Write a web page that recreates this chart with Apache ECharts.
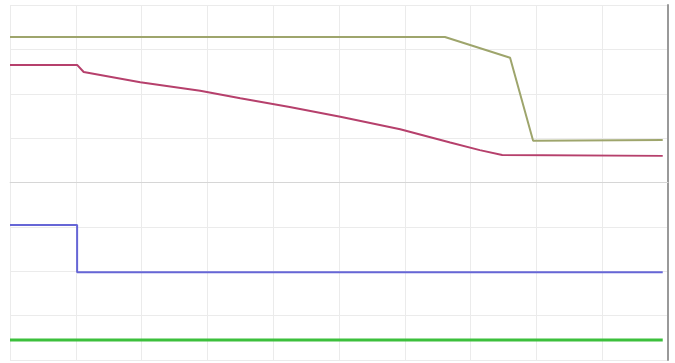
<!DOCTYPE html>
<html>
<head>
<meta charset="utf-8">
<script src="https://cdn.jsdelivr.net/npm/echarts@6/dist/echarts.min.js"></script>
<style>
html,body{margin:0;padding:0;background:#fff;}
#chart{width:675px;height:363px;}
</style>
</head>
<body>
<div id="chart"></div>
<script>
// Time in divisions (0..10), amplitude in divisions (-4..4)
var xTicks = [0,1,2,3,4,5,6,7,8,9,10];
var yTicks = [-4,-3,-2,-1,0,1,2,3,4];

var ch1Olive = [[0,3.28],[6.61,3.28],[7.60,2.81],[7.95,0.94],[9.92,0.96]];
var ch2Red = [[0,2.65],[1.02,2.65],[1.12,2.49],[1.98,2.26],[2.89,2.07],[3.50,1.90],[4.25,1.70],[5.02,1.48],[5.93,1.20],[6.69,0.90],[7.14,0.73],[7.48,0.62],[9.92,0.60]];
var ch3Blue = [[0,-0.96],[1.02,-0.96],[1.02,-2.02],[9.92,-2.02]];
var ch4Green = [[0,-3.55],[9.92,-3.55]];

var chart = echarts.init(document.getElementById('chart'), null, {renderer:'canvas'});
chart.setOption({
  animation:false,
  backgroundColor:'#ffffff',
  grid:{left:10,right:7,top:5,bottom:3,containLabel:false},
  xAxis:{type:'value',min:0,max:10,interval:1,
    axisLine:{show:true,lineStyle:{color:'#e2e2e2'}},
    axisTick:{show:false},axisLabel:{show:false},
    splitLine:{show:true,lineStyle:{color:'#ebebeb',width:1}}},
  yAxis:{type:'value',min:-4,max:4,interval:1,position:'right',
    axisLine:{show:true,onZero:false,lineStyle:{color:'#999999',width:2}},
    axisTick:{show:false},axisLabel:{show:false},
    splitLine:{show:true,lineStyle:{color:'#ebebeb',width:1}}},
  series:[
    {type:'line',data:ch1Olive,showSymbol:false,lineStyle:{color:'#9ea56c',width:2},
     markLine:{silent:true,symbol:'none',label:{show:false},lineStyle:{color:'#d6d6d6',type:'solid',width:1},data:[{yAxis:0}]},z:3},
    {type:'line',data:ch2Red,showSymbol:false,lineStyle:{color:'#b6406c',width:2},z:3},
    {type:'line',data:ch3Blue,showSymbol:false,lineStyle:{color:'#6666d6',width:2},z:3},
    {type:'line',data:ch4Green,showSymbol:false,lineStyle:{color:'#3cc03c',width:3},z:3}
  ]
});
</script>
</body>
</html>
